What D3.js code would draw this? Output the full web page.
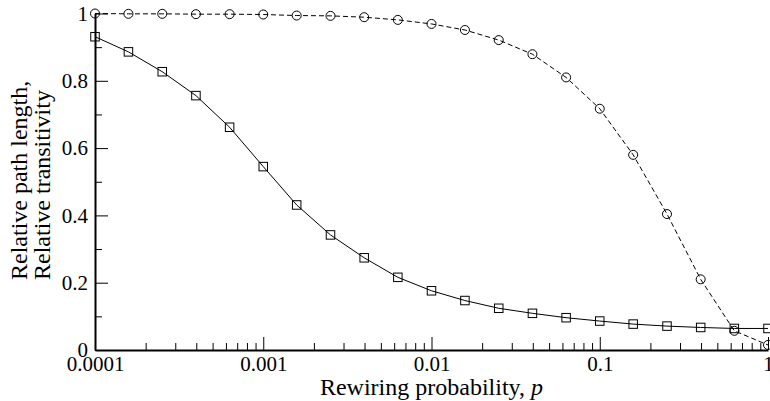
<!DOCTYPE html>
<html>
<head>
<meta charset="utf-8">
<script src="https://cdn.jsdelivr.net/npm/d3@7"></script>
<style>
  html, body { margin: 0; padding: 0; background: #fff; }
  svg { display: block; }
  .axis .domain { stroke: #000; stroke-width: 2px; }
  .axis line { stroke: #000; stroke-width: 1px; }
  .axis text { fill: #000; }
</style>
</head>
<body>
<div id="chart"></div>
<script>
// rewiring probability p (log-spaced, 5 per decade)
const pVals = [0.0001, 0.000158, 0.000251, 0.000398, 0.000631,
               0.001, 0.00158, 0.00251, 0.00398, 0.00631,
               0.01, 0.0158, 0.0251, 0.0398, 0.0631,
               0.1, 0.158, 0.251, 0.398, 0.631, 1];
// relative path length L(p)/L(0) — squares, solid
const pathLength = [0.931, 0.886, 0.827, 0.756, 0.662,
                    0.545, 0.431, 0.342, 0.274, 0.216,
                    0.176, 0.147, 0.124, 0.109, 0.096,
                    0.086, 0.077, 0.071, 0.067, 0.064, 0.064];
// relative transitivity C(p)/C(0) — circles, dashed
const transitivity = [1.0, 0.999, 0.999, 0.998, 0.998,
                      0.997, 0.994, 0.993, 0.989, 0.981,
                      0.969, 0.951, 0.921, 0.879, 0.810,
                      0.717, 0.580, 0.404, 0.210, 0.057, 0.015];

const xTicks = [0.0001, 0.001, 0.01, 0.1, 1];
const xTickLabels = ["0.0001", "0.001", "0.01", "0.1", "1"];
const yTicks = [0, 0.2, 0.4, 0.6, 0.8, 1];
const yTickLabels = ["0", "0.2", "0.4", "0.6", "0.8", "1"];

const FONT = "'Liberation Serif', Tinos, 'Times New Roman', Times, serif";
const W = 770, H = 401;
const m = { left: 95, right: 2, top: 13.5, bottom: 51 };

const svg = d3.select("#chart").append("svg").attr("width", W).attr("height", H)
  .style("font-family", FONT);

const x = d3.scaleLog().domain([0.0001, 1]).range([m.left, W - m.right]);
const y = d3.scaleLinear().domain([0, 1]).range([H - m.bottom, m.top]);

// minor ticks: 2..9 in each decade, 0.1 steps on y
const xMinor = [];
for (let d = -4; d < 0; d++) for (let k = 2; k <= 9; k++) xMinor.push(k * Math.pow(10, d));
const yMinor = d3.range(1, 10, 2).map(v => v / 10);

svg.append("g").attr("class", "axis")
  .attr("transform", `translate(0,${H - m.bottom})`)
  .call(d3.axisBottom(x).tickValues(xMinor).tickSize(-7).tickFormat(""))
  .call(g => g.select(".domain").remove());
svg.append("g").attr("class", "axis")
  .attr("transform", `translate(${m.left},0)`)
  .call(d3.axisLeft(y).tickValues(yMinor).tickSize(-7).tickFormat(""))
  .call(g => g.select(".domain").remove());

const styleAxis = g => g.attr("font-family", FONT).attr("font-size", 21)
  .selectAll("text").style("font-family", FONT).style("font-size", "21px");

svg.append("g").attr("class", "axis")
  .attr("transform", `translate(0,${H - m.bottom})`)
  .call(d3.axisBottom(x).tickValues(xTicks).tickSize(-13).tickSizeOuter(0).tickPadding(6)
    .tickFormat((d, i) => xTickLabels[i]))
  .call(styleAxis);
svg.append("g").attr("class", "axis")
  .attr("transform", `translate(${m.left},0)`)
  .call(d3.axisLeft(y).tickValues(yTicks).tickSize(-13).tickSizeOuter(0).tickPadding(7)
    .tickFormat((d, i) => yTickLabels[i]))
  .call(styleAxis);

const line = d3.line().x(d => x(d[0])).y(d => y(d[1]));
const ptsL = pVals.map((p, i) => [p, pathLength[i]]);
const ptsC = pVals.map((p, i) => [p, transitivity[i]]);

svg.append("path").datum(ptsL).attr("d", line)
  .attr("fill", "none").attr("stroke", "#000").attr("stroke-width", 1);
svg.append("path").datum(ptsC).attr("d", line)
  .attr("fill", "none").attr("stroke", "#000").attr("stroke-width", 1)
  .attr("stroke-dasharray", "5,3");

const sq = 8.5;
svg.append("g").selectAll("rect").data(ptsL).join("rect")
  .attr("x", d => x(d[0]) - sq / 2).attr("y", d => y(d[1]) - sq / 2)
  .attr("width", sq).attr("height", sq)
  .attr("fill", "none").attr("stroke", "#000").attr("stroke-width", 1);
svg.append("g").selectAll("circle").data(ptsC).join("circle")
  .attr("cx", d => x(d[0])).attr("cy", d => y(d[1])).attr("r", 4.5)
  .attr("fill", "none").attr("stroke", "#000").attr("stroke-width", 1);

// axis titles
const xt = svg.append("text").attr("x", (m.left + W - m.right) / 2).attr("y", 395)
  .attr("text-anchor", "middle").style("font-family", FONT).style("font-size", "24px")
  .text("Rewiring probability, ");
xt.append("tspan").attr("font-style", "italic").text("p");

const yt = svg.append("text").attr("transform", "translate(0,280) rotate(-90)")
  .style("font-family", FONT).style("font-size", "24px").attr("text-anchor", "start");
yt.append("tspan").attr("x", 0).attr("y", 27).text("Relative path length,");
yt.append("tspan").attr("x", 0).attr("y", 50).text("Relative transitivity");
</script>
</body>
</html>
